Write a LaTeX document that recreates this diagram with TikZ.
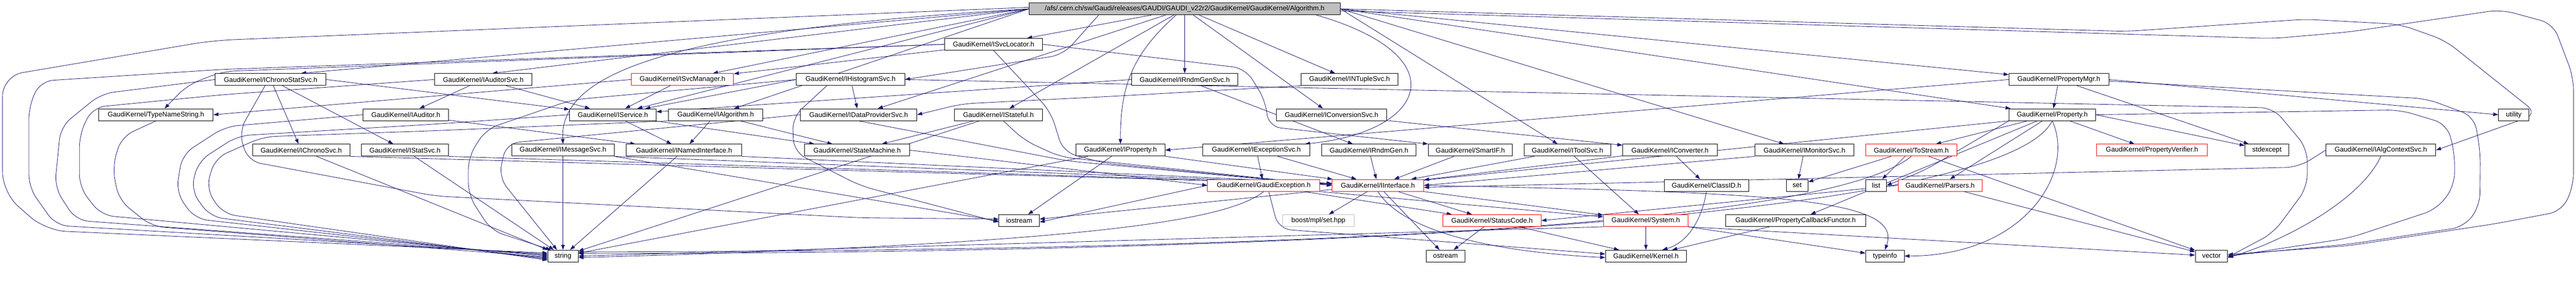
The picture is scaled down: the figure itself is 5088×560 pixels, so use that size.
\documentclass[tikz,border=0pt]{standalone}
\usepackage{fontspec}
\setmainfont{Liberation Sans}
\usetikzlibrary{arrows.meta}
\definecolor{edgec}{RGB}{25,25,112}
\definecolor{gfill}{RGB}{191,191,191}
\pgfdeclarelayer{bg}
\pgfsetlayers{bg,main}
\tikzset{
  box/.style={draw=black, fill=white, line width=1pt, minimum height=23.5pt, inner sep=0pt, font=\fontsize{13.5}{15}\selectfont, text=black},
  rbox/.style={box, draw=red},
  gbox/.style={box, draw=gfill},
  rootbox/.style={box, fill=gfill},
  dep/.style={draw=edgec, line width=0.85pt, -{Triangle[length=10pt,width=7pt]}},
  rc/.style={rounded corners=25pt},
}
\begin{document}
\begin{tikzpicture}[x=1pt,y=-1pt]
\useasboundingbox (0,0) rectangle (5088,560);
% row 0-1
\node[rootbox, minimum width=614pt] (root) at (2340,17.5) {/afs/.cern.ch/sw/Gaudi/releases/GAUDI/GAUDI\_v22r2/GaudiKernel/GaudiKernel/Algorithm.h};
\node[box, minimum width=193pt] (svcloc) at (1962.5,87.5) {GaudiKernel/ISvcLocator.h};
% row 2
\node[box, minimum width=219pt] (chronostat) at (534.5,157) {GaudiKernel/IChronoStatSvc.h};
\node[box, minimum width=193pt] (auditorsvc) at (954.5,157) {GaudiKernel/IAuditorSvc.h};
\node[rbox, minimum width=202pt] (svcmgr) at (1348,157) {GaudiKernel/ISvcManager.h};
\node[box, minimum width=214pt] (histo) at (1680,157) {GaudiKernel/IHistogramSvc.h};
\node[box, minimum width=210pt] (rndmgensvc) at (2340,157) {GaudiKernel/IRndmGenSvc.h};
\node[box, minimum width=191pt] (ntuple) at (2665.5,157) {GaudiKernel/INTupleSvc.h};
\node[box, minimum width=197pt] (propmgr) at (4066.5,157) {GaudiKernel/PropertyMgr.h};
% row 3
\node[box, minimum width=226pt] (typename) at (308,226.5) {GaudiKernel/TypeNameString.h};
\node[box, minimum width=169pt] (auditor) at (801.5,226.5) {GaudiKernel/IAuditor.h};
\node[box, minimum width=171pt] (service) at (1210.5,226.5) {GaudiKernel/IService.h};
\node[box, minimum width=187pt] (algorithm) at (1413.5,226.5) {GaudiKernel/IAlgorithm.h};
\node[box, minimum width=230pt] (dataprov) at (1696,226.5) {GaudiKernel/IDataProviderSvc.h};
\node[box, minimum width=174pt] (stateful) at (1972,226.5) {GaudiKernel/IStateful.h};
\node[box, minimum width=218pt] (convsvc) at (2630,226.5) {GaudiKernel/IConversionSvc.h};
\node[box, minimum width=171pt] (property) at (4053.5,226.5) {GaudiKernel/Property.h};
\node[box, minimum width=60pt] (utility) at (4965,226.5) {utility};
% row 4
\node[box, minimum width=192pt] (chronosvc) at (595,296.5) {GaudiKernel/IChronoSvc.h};
\node[box, minimum width=172pt] (statsvc) at (800,296.5) {GaudiKernel/IStatSvc.h};
\node[box, minimum width=202pt] (msgsvc) at (1112,296.5) {GaudiKernel/IMessageSvc.h};
\node[box, minimum width=228pt] (named) at (1351,296.5) {GaudiKernel/INamedInterface.h};
\node[box, minimum width=208pt] (statemach) at (1693,296.5) {GaudiKernel/StateMachine.h};
\node[box, minimum width=176pt] (iprop) at (2213,296.5) {GaudiKernel/IProperty.h};
\node[box, minimum width=211pt] (excsvc) at (2481.5,296.5) {GaudiKernel/IExceptionSvc.h};
\node[box, minimum width=186pt] (rndmgen) at (2704,296.5) {GaudiKernel/IRndmGen.h};
\node[box, minimum width=166pt] (smartif) at (2904,296.5) {GaudiKernel/SmartIF.h};
\node[box, minimum width=170pt] (toolsvc) at (3096,296.5) {GaudiKernel/IToolSvc.h};
\node[box, minimum width=187pt] (converter) at (3298.5,296.5) {GaudiKernel/IConverter.h};
\node[box, minimum width=196pt] (monitor) at (3564,296.5) {GaudiKernel/IMonitorSvc.h};
\node[rbox, minimum width=180pt] (tostream) at (3775,296.5) {GaudiKernel/ToStream.h};
\node[rbox, minimum width=219pt] (verifier) at (4250.5,296.5) {GaudiKernel/PropertyVerifier.h};
\node[box, minimum width=87pt] (stdexcept) at (4477.5,296.5) {stdexcept};
\node[box, minimum width=217pt] (algctx) at (4702.5,296.5) {GaudiKernel/IAlgContextSvc.h};
% row 5
\node[rbox, minimum width=222pt] (gaudiexc) at (2496,366) {GaudiKernel/GaudiException.h};
\node[rbox, minimum width=181pt] (iinterface) at (2721.5,366) {GaudiKernel/IInterface.h};
\node[box, minimum width=167pt] (classid) at (3370.5,366) {GaudiKernel/ClassID.h};
\node[box, minimum width=43pt] (set) at (3549.5,366) {set};
\node[box, minimum width=41pt] (list) at (3705.5,366) {list};
\node[rbox, minimum width=166pt] (parsers) at (3832,366) {GaudiKernel/Parsers.h};
% row 6
\node[box, minimum width=80pt] (iostream) at (2013,435.5) {iostream};
\node[gbox, minimum width=142pt] (boost) at (2604,435.5) {boost/mpl/set.hpp};
\node[rbox, minimum width=194pt] (statuscode) at (2947,435.5) {GaudiKernel/StatusCode.h};
\node[rbox, minimum width=167pt] (system) at (3250.5,435.5) {GaudiKernel/System.h};
\node[box, minimum width=277pt] (callback) at (3546.5,435.5) {GaudiKernel/PropertyCallbackFunctor.h};
% row 7
\node[box, minimum width=60pt] (string) at (1112,505.5) {string};
\node[box, minimum width=76pt] (ostream) at (2855,505.5) {ostream};
\node[box, minimum width=160pt] (kernel) at (3251,505.5) {GaudiKernel/Kernel.h};
\node[box, minimum width=76pt] (typeinfo) at (3723,505.5) {typeinfo};
\node[box, minimum width=64pt] (vector) at (4368,505.5) {vector};

\begin{pgfonlayer}{bg}
% ---- root
\draw[dep] (root) -- (svcloc);
\draw[dep] (root.west) -- ([xshift=60pt]chronostat.north);
\draw[dep] (root.west) -- ([xshift=18pt]auditorsvc.north);
\draw[dep] (root.west) -- (svcmgr);
\draw[dep] (root.west) -- (service);
\draw[dep] (root.west) -- (algorithm);
\draw[dep, rc] ([xshift=-170pt]root.south) -- (2100,108) -- (histo.east);
\draw[dep] (root) -- (dataprov);
\draw[dep] (root) -- (stateful);
\draw[dep] (root) -- (rndmgensvc);
\draw[dep] (root) -- (ntuple);
\draw[dep] (root) -- (convsvc);
\draw[dep] (root.east) -- (propmgr);
\draw[dep] (root.east) -- (property);
\draw[dep] (root.east) -- (toolsvc);
\draw[dep] (root.east) -- (monitor);
\draw[dep] ([xshift=-17pt]root.south) .. controls +(-90,80) and +(0,-110) .. (iprop.north);
\draw[dep] (root.west) .. controls (1300,60) and (1105,150) .. (msgsvc.north);
\draw[dep] ([xshift=260pt]root.south) .. controls (2880,110) and (2820,260) .. ([xshift=-10pt]excsvc.north east);
\draw[dep, rounded corners=40pt] ([yshift=3pt]root.west) -- (420,80) -- (5,150) -- (5,380) -- (90,455) -- ([yshift=6pt]string.west);
\draw[dep, rc] ([yshift=-4pt]root.east) -- (4490,76) -- (4640,63) -- (4940,19) -- (5043,47) -- (5083,153) -- (5083,367) -- (5060,417) -- (4927,442) -- (4640,485) -- ([yshift=3pt]vector.east);
\draw[dep, rc] (root.east) -- (4200,62) -- (4553,38) -- (4740,48) -- (4830,80) -- (5012,225) -- (algctx.east);
% ---- svclocator
\draw[dep, rc] (svcloc.west) -- (440,137) -- (80,160) -- (57,210) -- (57,370) -- (110,445) -- ([yshift=4pt]string.west);
\draw[dep, rc] (svcloc.west) -- (440,141) -- (370,168) -- ([xshift=17pt]typename.north);
\draw[dep] (svcloc) -- (svcmgr);
\draw[dep, rc] (svcloc.east) -- (2460,135) -- (2500,200) -- (2505,250) -- (smartif.north west);
\draw[dep, rc] (svcloc.south) -- (2075,220) -- (2100,300) -- (2180,322) -- (iinterface.west);
% ---- chronostat
\draw[dep] (chronostat) -- (chronosvc);
\draw[dep] (chronostat) -- (statsvc);
\draw[dep] (chronostat.east) -- (service);
\draw[dep, rc] (chronostat.west) -- (200,185) -- (120,250) -- (108,370) -- (150,435) -- ([yshift=2pt]string.west);
\draw[dep, rc] ([xshift=-11pt]chronostat.south) -- (472,260) -- (490,318) -- (860,387) -- (1700,430) -- ([yshift=3pt]iostream.west);
\draw[dep] (chronosvc.south east) -- (iinterface);
\draw[dep] (chronosvc) -- (string);
\draw[dep] (statsvc.south east) -- (iinterface);
\draw[dep] (statsvc) -- (string);
% ---- auditors
\draw[dep] (auditorsvc) -- (auditor);
\draw[dep] (auditorsvc) -- (service);
\draw[dep, rc] (auditorsvc.west) -- (440,187) -- (183,212) -- (157,265) -- (157,370) -- (200,425) -- (string.west);
\draw[dep] (auditor) -- (named);
\draw[dep, rc] (auditor.west) -- (445,250) -- (360,305) -- (348,380) -- (385,432) -- ([yshift=-4pt]string.west);
% ---- svc manager
\draw[dep] (svcmgr) -- (service);
\draw[dep] (svcmgr.west) -- (typename.east);
% ---- typename
\draw[dep, rc] (typename.south) -- (240,270) -- (222,330) -- (235,395) -- (300,447) -- ([yshift=-2pt]string.west);
% ---- histogram
\draw[dep] (histo) -- (dataprov);
\draw[dep] (histo.west) -- (service);
\draw[dep, rc] ([xshift=-47pt]histo.south) -- (1565,232) -- (1568,300) -- (1700,367) -- ([yshift=-3pt]iostream.west);
\draw[dep, rc] (histo.west) -- (1130,197) -- (960,255) -- (925,310) -- (925,385) -- (970,455) -- ([xshift=-24pt]string.north);
\draw[dep, rc] (histo.east) -- (4490,213) -- (4557,293) -- (4557,370) -- (4490,460) -- ([yshift=-2pt]vector.east);
% ---- data provider
\draw[dep, rc] (dataprov.west) -- (1000,283) -- (985,350) -- ([xshift=-12pt]string.north);
\draw[dep, rc] (dataprov.south) -- (2110,318) -- (iinterface.west);
% ---- rndm
\draw[dep] (rndmgensvc) -- (rndmgen);
\draw[dep] (rndmgensvc.west) -- (service);
% ---- ntuple
\draw[dep, rc] (ntuple.south west) -- (2200,190) -- (1900,205) -- (dataprov.east);
% ---- property manager
\draw[dep] (propmgr) -- (property);
\draw[dep] (propmgr.west) -- (iprop.east);
\draw[dep] (propmgr.east) -- (utility.west);
\draw[dep, rc] ([yshift=-3pt]propmgr.east) -- (4793,195) -- (4887,230) -- (4899,300) -- (4898,407) -- (4867,448) -- (4640,482) -- ([yshift=1pt]vector.east);
\draw[dep] (propmgr) -- (stdexcept);
% ---- property
\draw[dep] (property) -- (tostream);
\draw[dep] (property) -- (parsers);
\draw[dep] (property) -- (verifier);
\draw[dep] (property) -- (callback);
\draw[dep] (property.east) -- (stdexcept);
\draw[dep, rc] (property.east) -- (4740,217) -- (4833,245) -- (4848,300) -- (4848,367) -- (4813,413) -- (4640,470) -- ([yshift=-1pt]vector.east);
\draw[dep] (property.south) .. controls (4100,340) and (4000,505) .. (typeinfo.east);
\draw[dep, rc] (property.south west) -- (3800,337) -- (list.east);
\draw[dep] (property.south west) -- ([yshift=3pt]iostream.east);
\draw[dep] (property.south) .. controls (3950,440) and (2500,500) .. ([yshift=5pt]string.east);
% ---- tostream
\draw[dep] (tostream) -- (set);
\draw[dep] (tostream) -- (list);
\draw[dep] (tostream) -- (vector);
\draw[dep] (tostream.south) .. controls (3600,450) and (2500,495) .. ([yshift=8pt]string.east);
% ---- row 4 misc
\draw[dep] (iprop) -- (iinterface);
\draw[dep] (iprop) -- (string);
\draw[dep] (iprop) -- (iostream);
\draw[dep] (named.south east) -- (iinterface);
\draw[dep] (named) -- (string);
\draw[dep] (statemach.east) -- (gaudiexc.west);
\draw[dep] (stateful) -- (statemach);
\draw[dep, rc] ([xshift=10pt]stateful.south) -- (2023,277) -- (2095,310) -- (iinterface.west);
\draw[dep] (stateful) -- (string);
\draw[dep] (service) -- (named);
\draw[dep] (service) -- (statemach);
\draw[dep, rc] (service.west) -- (860,245) -- (470,268) -- (392,318) -- (377,375) -- (415,428) -- ([yshift=-6pt]string.west);
\draw[dep] (algorithm) -- (named);
\draw[dep] (algorithm) -- (statemach);
\draw[dep, rc] (algorithm.south west) -- (860,258) -- (520,270) -- (425,312) -- (407,372) -- (440,422) -- ([yshift=-8pt]string.west);
\draw[dep] (msgsvc) -- (string);
\draw[dep] (msgsvc.south east) -- ([yshift=-1pt]iostream.west);
\draw[dep] (msgsvc.south east) -- (iinterface);
\draw[dep] (excsvc) -- (gaudiexc);
\draw[dep] (excsvc) -- (iinterface);
\draw[dep] (rndmgen) -- (iinterface);
\draw[dep] (smartif) -- (iinterface);
\draw[dep] (toolsvc) -- (system);
\draw[dep] (toolsvc) -- (iinterface);
\draw[dep] (convsvc) -- (converter);
\draw[dep] (converter) -- (classid);
\draw[dep] (converter) -- (iinterface);
\draw[dep] (monitor) -- (set);
\draw[dep] (monitor.south west) -- (iinterface.east);
\draw[dep, rc] (algctx.west) -- (4540,330) -- ([yshift=-4pt]iinterface.east);
\draw[dep] (algctx.south) .. controls (4660,400) and (4500,480) .. ([yshift=-3pt]vector.east);
% ---- row 5
\draw[dep] (gaudiexc.west) -- ([yshift=-3pt]iostream.east);
\draw[dep] (gaudiexc.south) .. controls (2430,430) and (2200,480) .. ([yshift=-3pt]string.east);
\draw[dep] (gaudiexc) -- (statuscode);
\draw[dep] (gaudiexc.south east) -- (system);
\draw[dep, rc] ([xshift=10pt]gaudiexc.south) -- (2525,452) -- ([yshift=4pt]kernel.west);
\draw[dep] (iinterface) -- (boost);
\draw[dep] (iinterface) -- (ostream);
\draw[dep] (iinterface) -- (statuscode);
\draw[dep] (iinterface.south east) -- (system);
\draw[dep] (iinterface.south) .. controls (2780,470) and (3000,500) .. ([yshift=-3pt]kernel.west);
\draw[dep] (iinterface.east) .. controls (3500,380) and (3760,390) .. (typeinfo.north);
\draw[dep] (classid.south) .. controls (3360,440) and (3330,480) .. ([xshift=-48pt]kernel.north east);
\draw[dep] (parsers.west) -- (statuscode.east);
\draw[dep] (parsers) -- (vector);
% ---- row 6
\draw[dep] (statuscode) -- (ostream);
\draw[dep] (statuscode) -- (kernel);
\draw[dep] (system) -- (kernel);
\draw[dep] (system.south east) -- (typeinfo);
\draw[dep] (system.south west) -- (string.east);
\draw[dep] (system.south east) -- (vector);
\draw[dep] (callback) -- (kernel);
\end{pgfonlayer}
\end{tikzpicture}
\end{document}
